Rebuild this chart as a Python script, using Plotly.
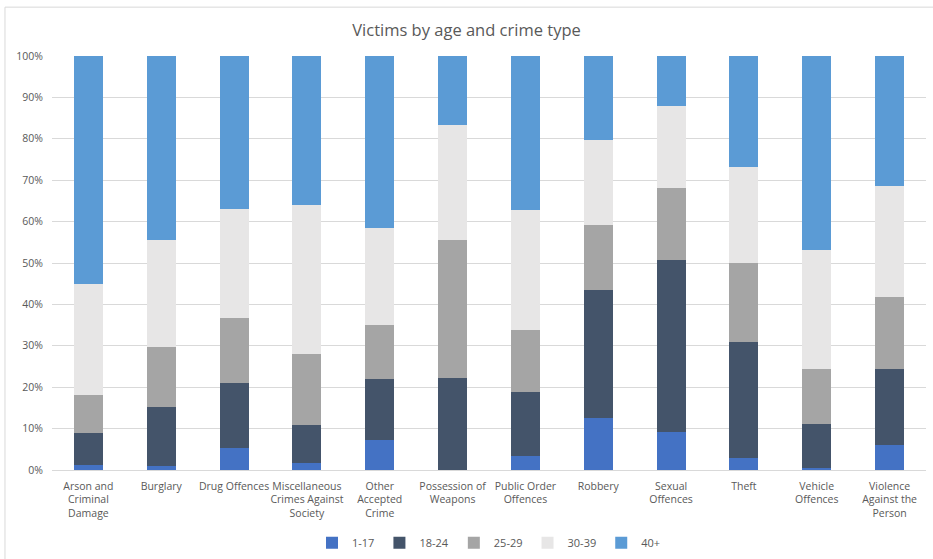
import plotly.graph_objects as go

categories = ["Arson and<br>Criminal<br>Damage", "Burglary", "Drug Offences",
              "Miscellaneous<br>Crimes Against<br>Society", "Other<br>Accepted<br>Crime",
              "Possession of<br>Weapons", "Public Order<br>Offences", "Robbery",
              "Sexual<br>Offences", "Theft", "Vehicle<br>Offences", "Violence<br>Against the<br>Person"]

age_1_17 = [1.2, 0.9, 5.3, 1.6, 7.2, 0.0, 3.5, 12.5, 9.3, 3.0, 0.4, 6.0]
age_18_24 = [7.7, 14.2, 15.8, 9.3, 14.8, 22.3, 15.3, 31.1, 41.5, 28.0, 10.6, 18.5]
age_25_29 = [9.3, 14.7, 15.6, 17.2, 13.1, 33.2, 15.0, 15.7, 17.2, 19.1, 13.4, 17.2]
age_30_39 = [26.7, 25.8, 26.3, 35.9, 23.4, 27.8, 29.0, 20.4, 19.9, 23.1, 28.7, 27.0]
age_40_plus = [55.1, 44.4, 37.0, 35.9, 41.5, 16.7, 37.2, 20.3, 12.1, 26.8, 46.9, 31.3]

series_names = ["1-17", "18-24", "25-29", "30-39", "40+"]
series_values = [age_1_17, age_18_24, age_25_29, age_30_39, age_40_plus]
colors = ["#4472C4", "#44546A", "#A5A5A5", "#E7E6E6", "#5B9BD5"]

fig = go.Figure()
for name, vals, col in zip(series_names, series_values, colors):
    fig.add_trace(go.Bar(x=categories, y=vals, name=name, marker_color=col,
                         marker_line_width=0))

font_family = "Open Sans, Segoe UI, Calibri, sans-serif"
fig.update_layout(
    barmode="stack",
    barnorm="percent",
    bargap=0.6,
    width=933, height=559,
    margin=dict(l=52, r=7, t=56, b=89),
    paper_bgcolor="white", plot_bgcolor="white",
    title=dict(text="Victims by age and crime type", x=0.5, xanchor="center",
               y=0.946, yanchor="middle",
               font=dict(family=font_family, size=16.5, color="#595959")),
    font=dict(family=font_family, size=11, color="#595959"),
    yaxis=dict(range=[0, 100], dtick=10, ticksuffix="%", showgrid=True,
               gridcolor="#D9D9D9", gridwidth=1, zeroline=False, showline=False,
               ticks="", ticklabelstandoff=8, automargin=False,
               tickfont=dict(size=10.5, color="#595959")),
    xaxis=dict(showline=True, linecolor="#D9D9D9", linewidth=1, ticks="",
               tickangle=0, ticklabelstandoff=6, automargin=False,
               tickfont=dict(size=10.5, color="#595959")),
    legend=dict(orientation="h", x=0.5, xanchor="center",
                yref="container", y=0.029, yanchor="middle",
                font=dict(size=11, color="#595959"), itemwidth=30,
                traceorder="normal"),
    shapes=[dict(type="rect", xref="paper", yref="paper",
                 x0=-0.0538, x1=1.2, y0=-0.5, y1=1.118,
                 line=dict(color="#D9D9D9", width=1), fillcolor="rgba(0,0,0,0)",
                 layer="below")],
)

fig.write_html("out.html")
